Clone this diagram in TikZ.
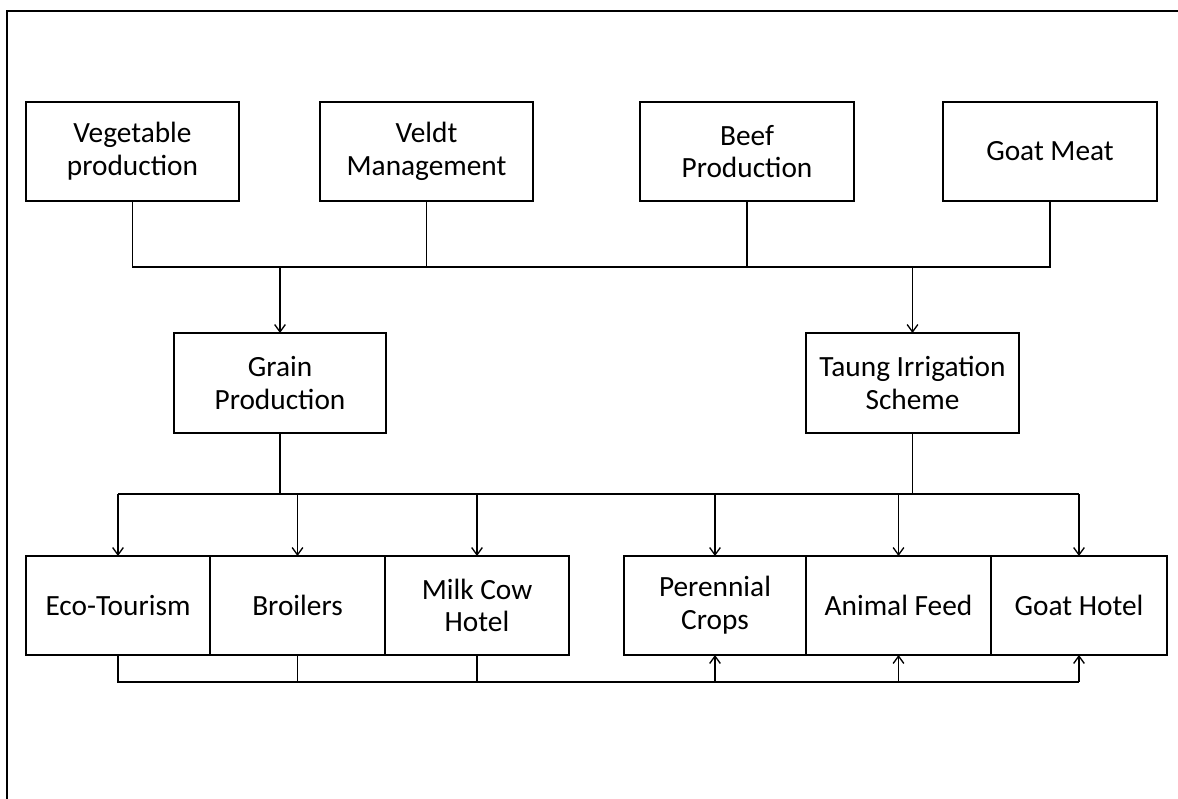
\documentclass[tikz,border=0pt]{standalone}
\usepackage{fontspec}
\setmainfont{Carlito}
\usetikzlibrary{arrows.meta}

\tikzset{
  box/.style 2 args={draw, line width=1.8pt, inner sep=0pt, outer sep=0pt,
    minimum width=#1*0.75pt, minimum height=#2*0.75pt, align=center,
    font=\fontsize{22}{24.5}\selectfont},
  link/.style={line width=1pt},
  flow/.style={line width=1pt, -{Straight Barb[length=5.5pt, width=8pt, line width=1pt]}}
}

\begin{document}
\begin{tikzpicture}[x=0.75pt, y=-0.75pt]
\useasboundingbox (0,0) rectangle (1178,799);

% outer frame (left and top edges)
\draw[line width=1.1pt] (7,799) -- (7,11) -- (1178,11);

% top row
\node[box={213}{99}] (veg)   at (132.5,151.5) {Vegetable\\production};
\node[box={213}{99}] (veldt) at (426.5,151.5) {Veldt\\Management};
\node[box={214}{99}] (beef)  at (747,151.5)   {Beef\\Production};
\node[box={214}{99}] (goat)  at (1050,151.5)  {Goat Meat};

% middle row
\node[box={212}{100}] (grain) at (280,383)   {Grain\\Production};
\node[box={213}{100}] (taung) at (912.5,383) {Taung Irrigation\\Scheme};

% bottom row
\node[box={184}{99}] (eco)    at (118,605.5)   {Eco-Tourism};
\node[box={175}{99}] (broil)  at (297.5,605.5) {Broilers};
\node[box={184}{99}] (milk)   at (477,605.5)   {Milk Cow\\Hotel};
\node[box={182}{99}] (peren)  at (715,605.5)   {Perennial\\Crops};
\node[box={185}{99}] (feed)   at (898.5,605.5) {Animal Feed};
\node[box={176}{99}] (ghotel) at (1079,605.5)  {Goat Hotel};

% bus levels
\coordinate (busA) at (0,267);
\coordinate (busB) at (0,494);
\coordinate (busC) at (0,682);

% top row into the middle row
\draw[link] (veg.south) -- (veg.south |- busA) -- (goat.south |- busA) -- (goat.south);
\draw[link] (veldt.south) -- (veldt.south |- busA);
\draw[link] (beef.south) -- (beef.south |- busA);
\draw[flow] (grain.north |- busA) -- (grain.north);
\draw[flow] (taung.north |- busA) -- (taung.north);

% middle row into the bottom row
\draw[link] (grain.south) -- (grain.south |- busB);
\draw[link] (taung.south) -- (taung.south |- busB);
\draw[link] (eco.north |- busB) -- (ghotel.north |- busB);
\foreach \n in {eco,broil,milk,peren,feed,ghotel}
  \draw[flow] (\n.north |- busB) -- (\n.north);

% bottom return line
\draw[link] (eco.south) -- (eco.south |- busC) -- (ghotel.south |- busC);
\draw[link] (broil.south) -- (broil.south |- busC);
\draw[link] (milk.south) -- (milk.south |- busC);
\draw[flow] (peren.south |- busC) -- (peren.south);
\draw[flow] (feed.south |- busC) -- (feed.south);
\draw[flow] (ghotel.south |- busC) -- (ghotel.south);
\end{tikzpicture}
\end{document}
